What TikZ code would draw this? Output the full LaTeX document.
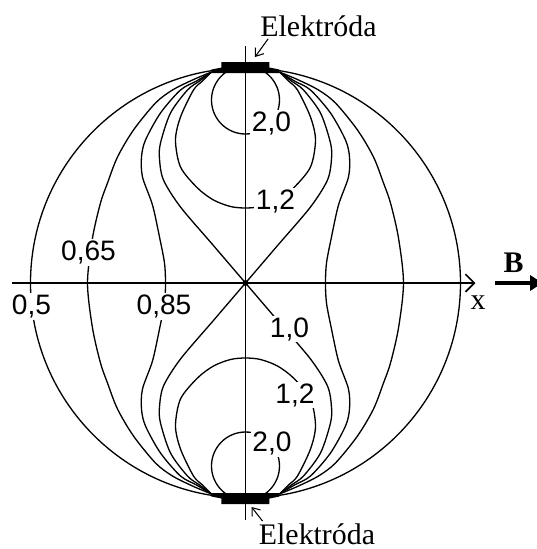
\documentclass[tikz,border=0pt]{standalone}
\usepackage{fontspec}
\setmainfont{Liberation Serif}
\newfontfamily\numfont{Liberation Sans}
\usetikzlibrary{arrows.meta}

\begin{document}
\begin{tikzpicture}[x=0.02cm,y=0.02cm,
  fl/.style={line width=0.75pt},
  ax/.style={line width=1pt},
  lbl/.style={font=\numfont\fontsize{16}{16}\selectfont,fill=white,inner sep=1pt},
  el/.style={font=\fontsize{17}{17}\selectfont,inner sep=0pt},
  ptr/.style={-{Straight Barb[length=4pt,width=6pt]},line width=0.6pt}]
\useasboundingbox (-245.5,-266) rectangle (291.5,283);
% lines 0.5, 0.65, 0.85
\draw[fl] (0,0) circle[radius=215];
\foreach \s in {1,-1}{
\begin{scope}[xscale=\s]
\draw[fl] plot[smooth] coordinates {(-34,211) (-53,203) (-73,193) (-90,180) (-112,153) (-128,126) (-138,100) (-145,80) (-153,45) (-158,0)
  (-153,-45) (-145,-80) (-138,-100) (-128,-126) (-112,-153) (-90,-180) (-73,-193) (-53,-203) (-34,-211)};
\draw[fl] plot[smooth] coordinates {(-34,211) (-49,202) (-65,193) (-85,170) (-100,143) (-104,126) (-103,106) (-93,78) (-86,46) (-81,20) (-80,0)
  (-81,-20) (-86,-46) (-93,-78) (-103,-106) (-104,-126) (-100,-143) (-85,-170) (-65,-193) (-49,-202) (-34,-211)};
\end{scope}}
% lines 1.0, 1.2, 2.0
\foreach \t in {1,-1}{
\begin{scope}[yscale=\t]
\draw[fl] plot[smooth] coordinates {(-34,211) (-43,202) (-52,193) (-65,166) (-70,143) (-65,116) (-48,95) (-32,83) (-15,76.5) (0,75)
  (15,76.5) (32,83) (48,95) (65,116) (70,143) (65,166) (52,193) (43,202) (34,211)};
\draw[fl] (0,183) circle[radius=34];
\foreach \s in {1,-1}
  \draw[fl,xscale=\s] plot[smooth] coordinates {(-34,211) (-46,202) (-58,193) (-75,170) (-85,140) (-86,124) (-82,103) (-65,76) (-32,37.4) (0,0)};
\fill (-24,221) -- (24,221) -- (24,215.5) -- (34,213.5) -- (34,210) -- (-34,210) -- (-34,213.5) -- (-24,215.5) -- cycle;
\end{scope}}
\draw[ax] (0,237) -- (0,-237);
\draw[ax,-{Straight Barb[length=5pt,width=10pt]}] (-233,0) -- (230,0);
\fill (0,0) circle[radius=3];
\node[lbl] (l20a) at (26,160) {2,0};
\node[lbl] (l12a) at (30,82) {1,2};
\node[lbl] (l065) at (-157,30.5) {0,65};
\node[lbl] (l05) at (-214,-23.5) {0,5};
\node[lbl] (l085) at (-81.5,-23.5) {0,85};
\node[lbl] (l10) at (44,-46) {1,0};
\node[lbl] (l12b) at (49.5,-112) {1,2};
\node[lbl] (l20b) at (26.5,-160.5) {2,0};
\node[el] (xlab) at (232.5,-19.5) {x};
\node[el,font=\bfseries\fontsize{17}{17}\selectfont] (bfield) at (268,20) {B};
\draw[line width=2.2pt,-{Triangle[length=7pt,width=8.5pt]}] (250,0) -- (297,0);
\node[el] (etop) at (73,257) {Elektróda};
\node[el] (ebot) at (71.5,-251) {Elektróda};
\coordinate (etopTip) at (9.5,226);
\coordinate (ebotTip) at (6,-224);
\draw[ptr] (etop.south west) ++(8,-2) -- (etopTip);
\draw[ptr] (ebot.north west) ++(4,2) -- (ebotTip);
\end{tikzpicture}
\end{document}
